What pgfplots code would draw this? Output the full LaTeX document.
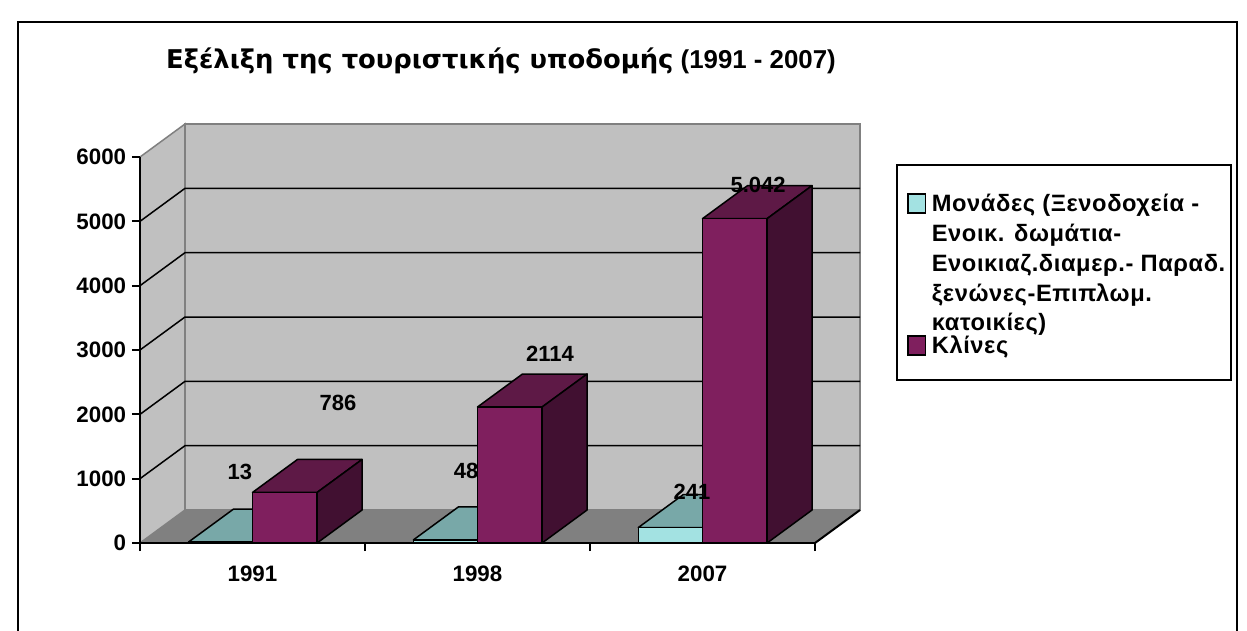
\documentclass[border=0pt]{standalone}
\usepackage{pgfplots}
\pgfplotsset{compat=1.18}
\usepackage{fontspec}
\setmainfont{Liberation Sans}
\newfontfamily\titlefont{DejaVu Sans}
\definecolor{cyF}{HTML}{A3E2E2}
\definecolor{cyT}{HTML}{78A8A8}
\definecolor{cyS}{HTML}{5A8A8A}
\definecolor{puF}{HTML}{7F1F5E}
\definecolor{puT}{HTML}{5E1946}
\definecolor{puS}{HTML}{411031}
\definecolor{wall}{HTML}{C0C0C0}
\definecolor{floorc}{HTML}{808080}

% cuboid: front x from #1 to #2, value #3, colour prefix #4
\newcommand\cuboid[4]{%
  \pgfmathsetmacro\xa{#1}%
  \pgfmathsetmacro\xb{#2}%
  \pgfmathsetmacro\xc{#1+0.2}%
  \pgfmathsetmacro\xd{#2+0.2}%
  \pgfmathsetmacro\vh{#3+513}%
  \edef\tmp{%
  \noexpand\addplot[forget plot, fill=#4T, draw=black, line width=0.9pt, line join=round] coordinates {(\xa,#3) (\xb,#3) (\xd,\vh) (\xc,\vh)} -- cycle;%
  \noexpand\addplot[forget plot, fill=#4S, draw=black, line width=0.9pt, line join=round] coordinates {(\xb,0) (\xd,513) (\xd,\vh) (\xb,#3)} -- cycle;%
  \noexpand\addplot[forget plot, fill=#4F, draw=black, line width=0.9pt, line join=round] coordinates {(\xa,0) (\xb,0) (\xb,#3) (\xa,#3)} -- cycle;}%
  \tmp}

\begin{document}
\begin{tikzpicture}[x=1pt,y=1pt]
\useasboundingbox (-84,-52.2) rectangle (664.2,325.8);
\draw[line width=1.2pt] (-73.2,312.6) rectangle (658.2,-70);
\draw[line width=0.9pt, fill=white] (454.2,226.8) rectangle (654.6,97.8);
\node[font=\bfseries\fontsize{15.5}{18}\selectfont] at (216.6,289.2) {{\titlefont Εξέλιξη της τουριστικής υποδομής} (1991 - 2007)};
\begin{axis}[
  at={(0,0)}, anchor=south west,
  scale only axis, width=405pt, height=231.6pt,
  xmin=0, xmax=3, ymin=0, ymax=6000,
  clip=false, axis on top,
  axis x line=bottom, axis y line=left,
  axis line style={-, line width=1.2pt, black},
  xtick={0,1,2,3}, x tick label as interval, xticklabels={1991,1998,2007},
  ytick={0,1000,2000,3000,4000,5000,6000},
  tick align=outside, major tick length=4.8pt,
  tick style={line width=1.2pt, black},
  /pgf/number format/assume math mode=true,
  /pgf/number format/1000 sep={},
  ticklabel style={font=\bfseries\fontsize{13.4}{15}\selectfont},
  xticklabel style={yshift=-5.4pt},
  legend style={draw=none, fill=none, at={(axis cs:3.409,5445)}, anchor=north west,
    inner sep=0pt, row sep=0pt, column sep=3.3pt,
    cells={anchor=base west},
    nodes={inner sep=0pt, text height=11pt, text depth=6.85pt,
      font=\bfseries\fontsize{14.2}{17}\selectfont\addfontfeature{LetterSpace=2.5}}},
  legend image code/.code={\draw[#1, draw=black, line width=0.9pt] (0pt,-0.6pt) rectangle (10.5pt,10.8pt);},
]
% floor
\addplot[forget plot, fill=floorc, draw=none] coordinates {(0,0) (3,0) (3.2,513) (0.2,513)} -- cycle;
% left wall
\addplot[forget plot, fill=wall, draw=floorc, line width=0.9pt] coordinates {(0,0) (0,6000) (0.2,6513) (0.2,513)} -- cycle;
% back wall
\addplot[forget plot, fill=wall, draw=floorc, line width=0.9pt] coordinates {(0.2,513) (3.2,513) (3.2,6513) (0.2,6513)} -- cycle;
% grid lines
\addplot[forget plot, black, line width=0.9pt] coordinates {(0,1000) (0.2,1513) (3.2,1513)};
\addplot[forget plot, black, line width=0.9pt] coordinates {(0,2000) (0.2,2513) (3.2,2513)};
\addplot[forget plot, black, line width=0.9pt] coordinates {(0,3000) (0.2,3513) (3.2,3513)};
\addplot[forget plot, black, line width=0.9pt] coordinates {(0,4000) (0.2,4513) (3.2,4513)};
\addplot[forget plot, black, line width=0.9pt] coordinates {(0,5000) (0.2,5513) (3.2,5513)};
\addplot[forget plot, black, line width=1.2pt] coordinates {(3,0) (3.2,513)};
% bars
\cuboid{0.215}{0.5}{13}{cy}
\cuboid{0.5}{0.787}{786}{pu}
\cuboid{1.215}{1.5}{48}{cy}
\cuboid{1.5}{1.787}{2114}{pu}
\cuboid{2.215}{2.5}{241}{cy}
\cuboid{2.5}{2.787}{5042}{pu}
% data labels
\begin{scope}[every node/.style={font=\bfseries\fontsize{13.2}{15}\selectfont, inner sep=0pt}]
\node at (axis cs:0.444,1104) {13};
\node at (axis cs:0.880,2176) {786};
\node at (axis cs:1.449,1119) {48};
\node at (axis cs:1.822,2938) {2114};
\node at (axis cs:2.453,793) {241};
\node at (axis cs:2.747,5565) {5.042};
\end{scope}
\addlegendimage{fill=cyF}
\addlegendentry{Μονάδες (Ξενοδοχεία -}
\addlegendimage{empty legend}
\addlegendentry{Ενοικ. δωμάτια-}
\addlegendimage{empty legend}
\addlegendentry{Ενοικιαζ.διαμερ.- Παραδ.}
\addlegendimage{empty legend}
\addlegendentry{ξενώνες-Επιπλωμ.}
\addlegendimage{empty legend}
\addlegendentry[text depth=2.6pt]{κατοικίες)}
\addlegendimage{fill=puF}
\addlegendentry{Κλίνες}
\end{axis}
\end{tikzpicture}
\end{document}
